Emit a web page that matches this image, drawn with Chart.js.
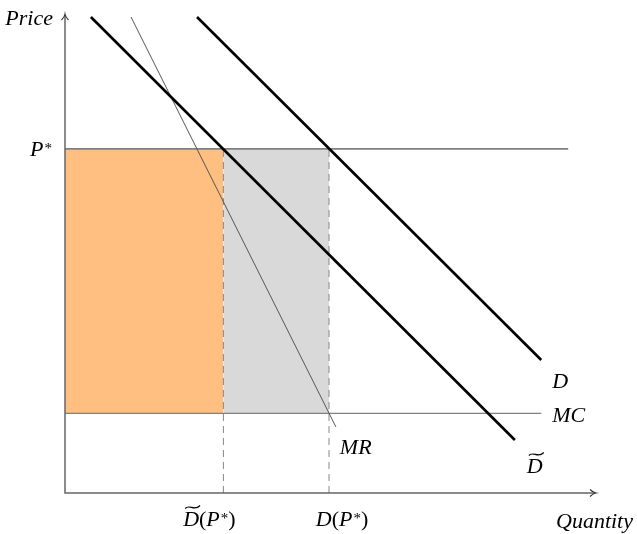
<!DOCTYPE html>
<html>
<head>
<meta charset="utf-8">
<script src="https://cdn.jsdelivr.net/npm/chart.js@4.4.0/dist/chart.umd.min.js"></script>
<style>
  html, body { margin: 0; padding: 0; background: #fff; }
  #wrap { width: 637px; height: 534px; }
</style>
</head>
<body>
<div id="wrap"><canvas id="MonopolyChart"></canvas></div>
<script>
// quantities on x, prices on y (arbitrary units)
const demandQ = [2.5, 9.02];
const demandP = [11.95, 3.34];
const demandTildeQ = [0.49, 8.52];
const demandTildeP = [11.95, 1.33];
const mrQ = [1.25, 5.13];
const mrP = [11.95, 1.66];
const priceStar = 8.64;
const mcLevel = 2;
const priceStarEnd = 9.53;
const mcEnd = 9.02;
const qTilde = 3;   // D~(P*)
const qStar = 5;    // D(P*)

const FONT = "italic 22px 'Liberation Serif', 'Times New Roman', serif";
const FONT_UP = "22px 'Liberation Serif', 'Times New Roman', serif";
const FONT_SUP = "15px 'Liberation Serif', 'Times New Roman', serif";

function pts(xs, ys) {
    return xs.map((x, i) => ({x: x, y: ys[i]}));
}

// pieces: [text, kind] kind = 'i' italic, 'r' roman, 's' superscript, 't' italic with tilde
function drawMath(ctx, pieces, x, y, align) {
    const fontFor = k => k == 'r' ? FONT_UP : (k == 's' ? FONT_SUP : FONT);
    let total = 0;
    const widths = pieces.map(p => {
        ctx.font = fontFor(p[1]);
        const w = ctx.measureText(p[0]).width + (p[1] == 's' ? 1 : 0);
        total += w;
        return w;
    });
    let cx = x;
    if (align == 'right') cx = x - total;
    if (align == 'center') cx = x - total / 2;
    ctx.fillStyle = "#000";
    ctx.textBaseline = "alphabetic";
    ctx.textAlign = "left";
    pieces.forEach((p, i) => {
        ctx.font = fontFor(p[1]);
        if (p[1] == 's') {
            ctx.fillText(p[0], cx + 1, y - 3);
        } else {
            ctx.fillText(p[0], cx, y);
        }
        if (p[1] == 't') {
            // wide tilde above the letter
            const tx = cx + 2, tw = widths[i] - 1, ty = y - 19;
            ctx.save();
            ctx.strokeStyle = "#000";
            ctx.lineWidth = 1.2;
            ctx.beginPath();
            ctx.moveTo(tx, ty + 1.5);
            ctx.bezierCurveTo(tx + tw * 0.3, ty - 3.5, tx + tw * 0.6, ty + 5, tx + tw, ty - 1.5);
            ctx.stroke();
            ctx.restore();
        }
        cx += widths[i];
    });
}

const axesAndLabels = {
    id: 'axesAndLabels',
    afterDatasetsDraw(chart) {
        const ctx = chart.ctx;
        const xs = chart.scales.x, ys = chart.scales.y;
        const ox = xs.getPixelForValue(0), oy = ys.getPixelForValue(0);
        const topY = chart.chartArea.top, rightX = chart.chartArea.right + 2;

        ctx.save();
        ctx.strokeStyle = "#666";
        ctx.lineWidth = 1.5;
        ctx.beginPath();
        ctx.moveTo(ox, topY);
        ctx.lineTo(ox, oy);
        ctx.lineTo(rightX, oy);
        ctx.stroke();
        // arrow heads
        ctx.lineWidth = 1.1;
        ctx.strokeStyle = "#333";
        ctx.beginPath();
        ctx.moveTo(ox - 3.5, topY + 5);
        ctx.quadraticCurveTo(ox - 0.5, topY + 2, ox, topY - 1);
        ctx.quadraticCurveTo(ox + 0.5, topY + 2, ox + 3.5, topY + 5);
        ctx.moveTo(rightX - 5, oy - 3.5);
        ctx.quadraticCurveTo(rightX - 2, oy - 0.5, rightX + 1, oy);
        ctx.quadraticCurveTo(rightX - 2, oy + 0.5, rightX - 5, oy + 3.5);
        ctx.stroke();

        drawMath(ctx, [["Price", 'i']], ox - 12, topY + 10, 'right');
        drawMath(ctx, [["Quantity", 'i']], rightX + 38, oy + 35, 'right');
        drawMath(ctx, [["P", 'i'], ["*", 's']], ox - 13, ys.getPixelForValue(priceStar) + 7, 'right');

        const dEnd = {x: xs.getPixelForValue(demandQ[1]), y: ys.getPixelForValue(demandP[1])};
        drawMath(ctx, [["D", 'i']], dEnd.x + 11, dEnd.y + 28, 'left');
        drawMath(ctx, [["MC", 'i']], xs.getPixelForValue(mcEnd) + 11, ys.getPixelForValue(mcLevel) + 9, 'left');
        const mrEnd = {x: xs.getPixelForValue(mrQ[1]), y: ys.getPixelForValue(mrP[1])};
        drawMath(ctx, [["MR", 'i']], mrEnd.x + 4, mrEnd.y + 27, 'left');
        const dtEnd = {x: xs.getPixelForValue(demandTildeQ[1]), y: ys.getPixelForValue(demandTildeP[1])};
        drawMath(ctx, [["D", 't']], dtEnd.x + 12, dtEnd.y + 33, 'left');

        drawMath(ctx, [["D", 't'], ["(", 'r'], ["P", 'i'], ["*", 's'], [")", 'r']],
            xs.getPixelForValue(qTilde) - 14, oy + 33, 'center');
        drawMath(ctx, [["D", 'i'], ["(", 'r'], ["P", 'i'], ["*", 's'], [")", 'r']],
            xs.getPixelForValue(qStar) + 13, oy + 33, 'center');
        ctx.restore();
    }
};

const MonopolyChart = new Chart(document.getElementById("MonopolyChart"), {
    type: 'line',
    data: {
        datasets: [{
            label: 'D~',
            data: pts(demandTildeQ, demandTildeP),
            borderColor: "#000",
            borderWidth: 2.6,
        }, {
            label: 'D',
            data: pts(demandQ, demandP),
            borderColor: "#000",
            borderWidth: 2.6,
        }, {
            label: 'MR',
            data: pts(mrQ, mrP),
            borderColor: "#555",
            borderWidth: 1,
        }, {
            label: 'P*',
            data: pts([0, priceStarEnd], [priceStar, priceStar]),
            borderColor: "#808080",
            borderWidth: 1.6,
        }, {
            label: 'MC',
            data: pts([0, mcEnd], [mcLevel, mcLevel]),
            borderColor: "#808080",
            borderWidth: 1.3,
        }, {
            label: 'qTilde',
            data: pts([qTilde, qTilde], [0, priceStar]),
            borderColor: "#888",
            borderWidth: 1,
            borderDash: [7, 5],
        }, {
            label: 'qStar',
            data: pts([qStar, qStar], [0, priceStar]),
            borderColor: "#888",
            borderWidth: 1,
            borderDash: [7, 5],
        }, {
            label: 'orange',
            data: pts([0, qTilde], [priceStar, priceStar]),
            borderWidth: 0,
            borderColor: "rgba(0,0,0,0)",
            backgroundColor: "#ffbf80",
            fill: {value: mcLevel},
        }, {
            label: 'gray',
            data: pts([qTilde, qStar], [priceStar, priceStar]),
            borderWidth: 0,
            borderColor: "rgba(0,0,0,0)",
            backgroundColor: "#d9d9d9",
            fill: {value: mcLevel},
        }]
    },
    options: {
        responsive: true,
        maintainAspectRatio: false,
        animation: false,
        layout: {
            padding: {left: 65, top: 15, right: 44, bottom: 41}
        },
        elements: {
            point: { radius: 0, hoverRadius: 0 },
            line: { tension: 0 }
        },
        plugins: {
            legend: { display: false },
            tooltip: { enabled: false }
        },
        scales: {
            x: { type: 'linear', min: 0, max: 10, display: false },
            y: { type: 'linear', min: 0, max: 12, display: false }
        }
    },
    plugins: [axesAndLabels]
});
</script>
</body>
</html>
